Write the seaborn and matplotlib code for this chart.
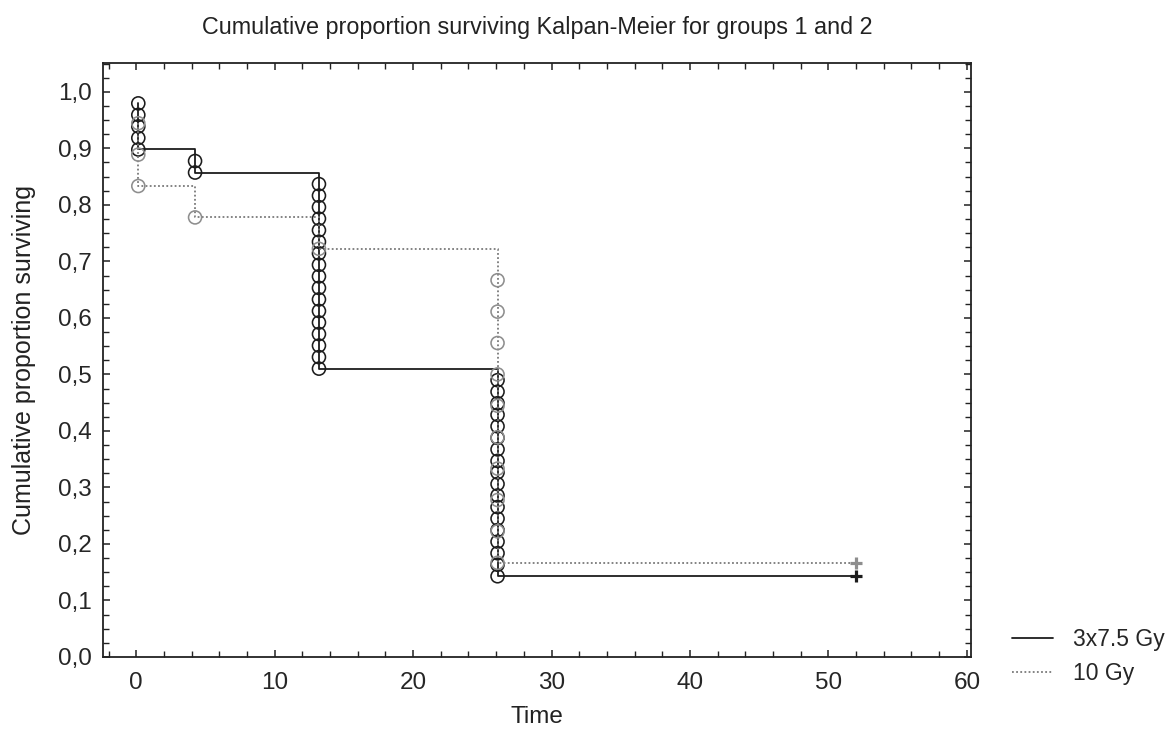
import numpy as np
import pandas as pd
import matplotlib
matplotlib.use("Agg")
import matplotlib.pyplot as plt
from matplotlib.lines import Line2D
from matplotlib.ticker import MultipleLocator, FuncFormatter
import seaborn as sns

# data (times in weeks)
event_times = [0.15, 4.25, 13.2, 26.1]
end_time = 52
groups = ["3x7.5 Gy", "10 Gy"]
n_subjects = [49, 18]
deaths_g1 = [5, 2, 17, 18]
deaths_g2 = [3, 1, 1, 10]
censored = [7, 3]

line_colors = ["#1c1c1c", "#7a7a7a"]
marker_colors = ["#1c1c1c", "#8e8e8e"]

sns.set_style("ticks")
plt.rcParams["font.family"] = ["Liberation Sans", "DejaVu Sans"]

fig = plt.figure(figsize=(11.68, 7.34), dpi=100)
ax = fig.add_axes([103 / 1168, 1 - 657 / 734, 868 / 1168, 594 / 734])


def km_tables(n, deaths, name):
    # one row per death (circle), plus the step path of the curve
    pts, path = [], []
    dead = 0
    for t, d in zip(event_times, deaths):
        if path:
            path.append((t, 1 - dead / n))
        for _ in range(d):
            dead += 1
            pts.append((t, 1 - dead / n))
        if not path:
            path.append((t, 1 - 1 / n))
        path.append((t, 1 - dead / n))
    path.append((end_time, 1 - dead / n))
    pts = pd.DataFrame(pts, columns=["time", "surv"]).assign(group=name)
    path = pd.DataFrame(path, columns=["time", "surv"]).assign(group=name)
    return pts, path


styles = ["-", (0, (1, 1.3))]
for i, (deaths, name) in enumerate(zip([deaths_g1, deaths_g2], groups)):
    pts, path = km_tables(n_subjects[i], deaths, name)
    sns.lineplot(data=path, x="time", y="surv", sort=False, estimator=None,
                 color=line_colors[i], linestyle=styles[i], linewidth=1.3,
                 ax=ax, zorder=2 + i)
    sns.scatterplot(data=pts, x="time", y="surv", marker="o", s=88,
                    facecolor="none", edgecolor=marker_colors[i],
                    linewidth=1.15, ax=ax, zorder=3 + i)
    ax.plot([end_time], [censored[i] / n_subjects[i]], marker="+",
            markersize=9, mew=2.3, color=marker_colors[i], zorder=5)

ax.set_xlim(-2.4, 60.3)
ax.set_ylim(0, 1.051)
ax.xaxis.set_major_locator(MultipleLocator(10))
ax.xaxis.set_minor_locator(MultipleLocator(2))
ax.yaxis.set_major_locator(MultipleLocator(0.1))
ax.yaxis.set_minor_locator(MultipleLocator(0.025))
ax.yaxis.set_major_formatter(FuncFormatter(lambda v, p: f"{v:.1f}".replace(".", ",")))
ax.tick_params(which="both", direction="in", top=True, right=True, color="#222222")
ax.tick_params(which="major", length=5, width=1.1, labelsize=17.5, pad=8)
ax.tick_params(which="minor", length=4, width=1.0)
ax.tick_params(axis="x", which="major", pad=11)
for sp in ax.spines.values():
    sp.set_linewidth(1.3)
    sp.set_color("#222222")

ax.set_title("Cumulative proportion surviving Kalpan-Meier for groups 1 and 2",
             fontsize=16.8, pad=21, color="#222222")
ax.set_xlabel("Time", fontsize=17.5, color="#222222")
ax.set_ylabel("Cumulative proportion surviving", fontsize=18, color="#222222")
ax.xaxis.set_label_coords(0.5, -0.082)
ax.yaxis.set_label_coords(-0.077, 0.5)

handles = [Line2D([], [], color=line_colors[0], lw=1.3, linestyle="-"),
           Line2D([], [], color=line_colors[1], lw=1.3, linestyle=(0, (1, 1.3)))]
fig.legend(handles, groups, loc="upper left", bbox_to_anchor=(1012 / 1168, 1 - 628 / 734),
           frameon=False, fontsize=16.5, handlelength=1.8, handletextpad=0.85,
           labelspacing=0.5, borderpad=0, borderaxespad=0)

fig.savefig("out.png", dpi=100)
